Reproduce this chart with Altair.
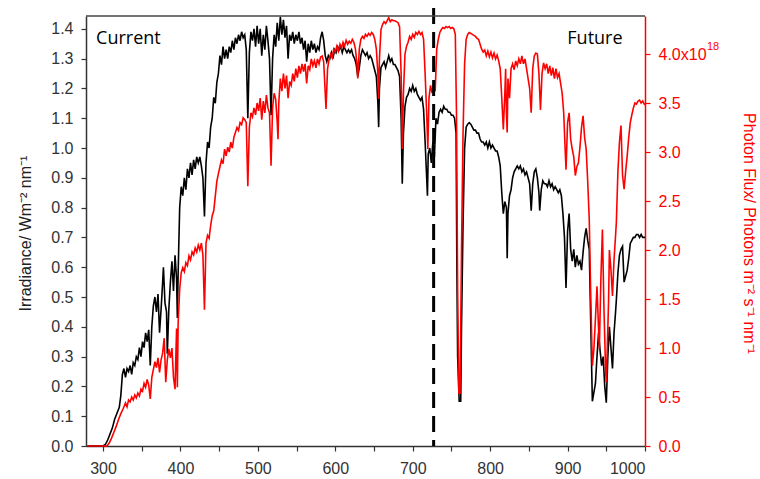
import altair as alt
import pandas as pd

# ---- black series: irradiance (W m-2 nm-1) ----
black_nm = [280, 290, 300, 303, 306, 309, 312, 315, 318, 321, 323, 325, 327, 329, 331, 333, 335, 337, 339, 341,
            343, 345, 347, 349, 351, 353, 355, 357, 359, 361, 363, 365, 367, 369, 371, 373, 375, 377, 378, 380,
            382, 383, 385, 387, 389, 391, 393, 395, 396, 397, 399, 401, 403, 405, 407, 409, 411, 413, 415, 417,
            419, 421, 423, 425, 427, 429, 431, 433, 435, 437, 439, 441, 443, 445, 447, 449, 451, 453, 455, 457,
            459, 461, 463, 465, 467, 469, 471, 473, 475, 477, 479, 481, 483, 485, 487, 489, 491, 493, 495, 497,
            499, 501, 503, 505, 507, 509, 511, 513, 515, 517, 519, 521, 523, 525, 527, 529, 531, 533, 535, 537,
            539, 541, 543, 545, 547, 549, 551, 553, 555, 557, 559, 561, 563, 565, 567, 569, 571, 573, 575, 577,
            579, 581, 583, 585, 587, 589, 591, 593, 595, 597, 599, 601, 603, 605, 607, 609, 611, 613, 615, 617,
            619, 621, 623, 625, 627, 629, 631, 633, 635, 637, 639, 641, 643, 645, 647, 649, 651, 653, 655, 656,
            657, 659, 661, 663, 665, 667, 669, 671, 673, 675, 677, 679, 681, 683, 685, 686.5, 688, 690, 692, 694,
            696, 698, 700, 702, 704, 706, 708, 710, 712, 714, 716, 718, 719, 720, 722, 724, 726, 728, 730, 732,
            734, 736, 738, 740, 742, 744, 746, 748, 750, 752, 754, 756, 757, 758, 760, 762, 763, 765, 767, 769,
            771, 773, 775, 777, 779, 781, 783, 785, 787, 789, 791, 793, 795, 797, 799, 801, 803, 805, 807, 809,
            811, 813, 815, 817, 819, 821, 822, 823, 825, 827, 829, 831, 833, 835, 837, 839, 841, 843, 845, 847,
            849, 851, 853, 855, 857, 859, 861, 863, 864, 866, 868, 870, 872, 874, 876, 878, 880, 882, 884, 886,
            888, 890, 892, 894, 896, 898, 900, 902, 904, 906, 908, 910, 912, 914, 916, 918, 920, 922, 924, 926,
            928, 930, 932, 934, 936, 938, 940, 942, 944, 946, 948, 950, 952, 954, 956, 958, 960, 962, 963, 965,
            967, 969, 971, 973, 975, 977, 979, 981, 983, 985, 987, 989, 991, 993, 995, 997, 999, 1000]
black_irr = [0, 0, 0, 0.005, 0.02, 0.04, 0.06, 0.09, 0.11, 0.13, 0.17, 0.24, 0.26, 0.23, 0.26, 0.25, 0.27, 0.24, 0.28, 0.27,
             0.30, 0.29, 0.33, 0.30, 0.35, 0.33, 0.38, 0.35, 0.39, 0.27, 0.40, 0.47, 0.50, 0.45, 0.51, 0.38, 0.46, 0.55, 0.60, 0.48,
             0.45, 0.31, 0.46, 0.55, 0.62, 0.52, 0.64, 0.56, 0.43, 0.58, 0.80, 0.87, 0.84, 0.90, 0.86, 0.93, 0.90, 0.95, 0.91, 0.96,
             0.93, 0.97, 0.95, 0.97, 0.94, 0.90, 0.77, 0.95, 1.02, 1.00, 1.07, 1.10, 1.17, 1.15, 1.22, 1.25, 1.31, 1.28, 1.34, 1.30,
             1.33, 1.30, 1.34, 1.32, 1.36, 1.33, 1.37, 1.35, 1.38, 1.36, 1.39, 1.37, 1.38, 1.33, 1.10, 1.32, 1.39, 1.36, 1.40, 1.34,
             1.41, 1.35, 1.40, 1.31, 1.38, 1.33, 1.41, 1.36, 1.30, 1.11, 1.30, 1.38, 1.34, 1.42, 1.36, 1.44, 1.38, 1.43, 1.37, 1.41,
             1.30, 1.38, 1.36, 1.39, 1.35, 1.38, 1.36, 1.39, 1.35, 1.37, 1.33, 1.36, 1.29, 1.35, 1.32, 1.36, 1.33, 1.35, 1.32, 1.34,
             1.33, 1.37, 1.39, 1.36, 1.31, 1.29, 1.31, 1.30, 1.32, 1.30, 1.33, 1.32, 1.34, 1.33, 1.34, 1.32, 1.34, 1.33, 1.32, 1.33,
             1.32, 1.33, 1.31, 1.30, 1.28, 1.24, 1.27, 1.31, 1.33, 1.32, 1.31, 1.32, 1.30, 1.31, 1.30, 1.28, 1.26, 1.24, 1.15, 1.07,
             1.20, 1.27, 1.28, 1.29, 1.27, 1.29, 1.31, 1.29, 1.30, 1.28, 1.28, 1.27, 1.26, 1.24, 1.10, 0.88, 1.05, 1.14, 1.17, 1.18,
             1.20, 1.19, 1.21, 1.19, 1.20, 1.18, 1.17, 1.16, 1.17, 1.13, 1.02, 0.90, 0.84, 0.98, 1.00, 0.95, 1.02, 0.97, 1.10, 1.08,
             1.12, 1.13, 1.12, 1.14, 1.13, 1.13, 1.12, 1.12, 1.11, 1.11, 1.10, 1.05, 0.60, 0.30, 0.15, 0.15, 0.40, 0.75, 1.00, 1.07,
             1.08, 1.085, 1.08, 1.07, 1.06, 1.06, 1.05, 1.05, 1.03, 1.02, 1.02, 1.01, 1.02, 1.00, 1.02, 1.00, 1.01, 1.00, 0.99, 0.99,
             0.97, 0.94, 0.85, 0.78, 0.82, 0.80, 0.63, 0.78, 0.84, 0.86, 0.90, 0.92, 0.93, 0.94, 0.93, 0.94, 0.92, 0.93, 0.91, 0.92,
             0.90, 0.88, 0.79, 0.88, 0.92, 0.93, 0.90, 0.85, 0.79, 0.86, 0.89, 0.88, 0.88, 0.87, 0.89, 0.87, 0.88, 0.86, 0.87, 0.86,
             0.85, 0.86, 0.84, 0.78, 0.70, 0.53, 0.72, 0.78, 0.66, 0.62, 0.66, 0.60, 0.64, 0.61, 0.62, 0.59, 0.65, 0.70, 0.73, 0.69,
             0.66, 0.40, 0.15, 0.18, 0.21, 0.30, 0.38, 0.32, 0.27, 0.30, 0.20, 0.145, 0.30, 0.40, 0.33, 0.26, 0.38, 0.45, 0.49, 0.58,
             0.64, 0.66, 0.67, 0.55, 0.57, 0.59, 0.63, 0.68, 0.69, 0.70, 0.70, 0.71, 0.71, 0.70, 0.71, 0.70, 0.70, 0.70]

# ---- red series: photon flux (x10^18 photons m-2 s-1 nm-1) ----
red_nm = [280, 290, 300, 305, 308, 311, 314, 317, 320, 323, 326, 329, 331, 333, 335, 337, 339, 341, 343, 345,
          347, 349, 351, 353, 355, 357, 359, 361, 363, 365, 367, 369, 371, 373, 375, 377, 379, 381, 383, 385,
          387, 389, 391, 393, 394, 395, 396, 397, 399, 401, 403, 405, 407, 409, 411, 413, 415, 417, 419, 421,
          423, 425, 427, 429, 431, 433, 435, 437, 439, 441, 443, 445, 447, 449, 451, 453, 455, 457, 459, 461,
          463, 465, 467, 469, 471, 473, 475, 477, 479, 481, 483, 485, 487, 489, 491, 493, 495, 497, 499, 501,
          503, 505, 507, 509, 511, 513, 515, 517, 519, 521, 523, 525, 526, 527, 529, 531, 533, 535, 537, 539,
          541, 543, 545, 547, 549, 551, 553, 555, 557, 559, 561, 563, 565, 567, 569, 571, 573, 575, 577, 579,
          581, 583, 585, 587, 588, 590, 592, 594, 596, 598, 600, 602, 604, 606, 608, 610, 612, 614, 616, 618,
          620, 622, 624, 626, 628, 629, 631, 633, 635, 637, 639, 641, 643, 645, 647, 649, 651, 653, 655, 656,
          657, 659, 661, 663, 665, 667, 669, 671, 673, 675, 677, 679, 681, 683, 685, 686.5, 688, 690, 692, 694,
          696, 698, 700, 702, 704, 706, 708, 710, 712, 714, 716, 718, 719.5, 721, 723, 725, 727, 729, 731, 733,
          735, 737, 739, 741, 743, 745, 747, 749, 751, 753, 755, 756.5, 758, 759.5, 761, 762, 763, 765, 767, 769,
          771, 773, 775, 777, 779, 781, 783, 785, 787, 789, 791, 793, 795, 797, 799, 801, 803, 805, 807, 809,
          811, 813, 815, 817, 819, 820, 821, 822, 823, 825, 827, 829, 831, 833, 835, 837, 839, 841, 843, 845,
          847, 849, 851, 853, 855, 857, 859, 861, 863, 865, 867, 869, 871, 873, 875, 877, 879, 881, 883, 885,
          887, 889, 891, 893, 895, 897, 898, 900, 902, 904, 906, 908, 910, 912, 914, 916, 918, 920, 922, 924,
          926, 928, 930, 932, 934, 936, 938, 940, 941, 943, 945, 947, 949, 950, 952, 953, 954, 956, 958, 960,
          962, 963, 965, 967, 969, 971, 973, 975, 977, 979, 981, 983, 985, 987, 989, 991, 993, 995, 997, 999, 1000]
red_flux = [0, 0, 0, 0.0, 0.03, 0.08, 0.14, 0.20, 0.27, 0.33, 0.38, 0.44, 0.40, 0.47, 0.45, 0.50, 0.47, 0.52, 0.49, 0.54,
            0.51, 0.58, 0.56, 0.64, 0.60, 0.68, 0.62, 0.48, 0.70, 0.78, 0.86, 0.80, 0.90, 0.75, 0.88, 0.95, 1.10, 0.65, 0.88, 0.99,
            0.90, 1.00, 0.70, 0.58, 0.90, 1.20, 0.60, 1.25, 1.60, 1.77, 1.82, 1.78, 1.87, 1.84, 1.94, 1.90, 1.98, 1.95, 2.02, 1.98,
            2.05, 2.00, 2.07, 1.95, 1.39, 2.07, 2.15, 2.12, 2.25, 2.35, 2.40, 2.55, 2.70, 2.78, 2.85, 2.92, 2.88, 3.03, 2.96, 3.05,
            3.00, 3.10, 3.04, 3.15, 3.20, 3.25, 3.22, 3.30, 3.28, 3.35, 3.33, 3.30, 2.65, 3.25, 3.40, 3.36, 3.45, 3.38, 3.50, 3.42,
            3.55, 3.33, 3.52, 3.40, 3.58, 3.45, 3.40, 2.86, 3.45, 3.60, 3.54, 3.30, 3.13, 3.50, 3.75, 3.62, 3.80, 3.65, 3.78, 3.55,
            3.72, 3.68, 3.80, 3.72, 3.85, 3.76, 3.88, 3.80, 3.90, 3.82, 3.90, 3.70, 3.88, 3.84, 3.95, 3.88, 3.93, 3.86, 3.95, 3.90,
            3.97, 3.98, 3.92, 3.60, 3.44, 3.85, 3.95, 4.00, 3.96, 4.05, 4.02, 4.08, 4.03, 4.10, 4.06, 4.12, 4.08, 4.14, 4.10, 4.13,
            4.11, 4.15, 4.12, 4.05, 3.90, 3.75, 4.05, 4.15, 4.18, 4.16, 4.20, 4.18, 4.21, 4.19, 4.22, 4.20, 4.15, 4.05, 3.80, 3.54,
            3.95, 4.25, 4.30, 4.33, 4.31, 4.34, 4.37, 4.33, 4.35, 4.34, 4.34, 4.33, 4.32, 4.28, 3.80, 3.03, 3.60, 4.00, 4.08, 4.12,
            4.18, 4.15, 4.20, 4.17, 4.22, 4.20, 4.23, 4.20, 4.22, 4.15, 3.80, 3.40, 3.03, 3.55, 3.68, 3.60, 3.70, 3.62, 4.05, 4.15,
            4.22, 4.25, 4.27, 4.26, 4.28, 4.27, 4.28, 4.26, 4.27, 4.26, 4.20, 3.40, 1.60, 0.54, 0.54, 1.20, 2.00, 3.20, 3.90, 4.15,
            4.20, 4.22, 4.21, 4.20, 4.19, 4.18, 4.16, 4.15, 4.10, 4.05, 4.02, 4.04, 3.98, 4.03, 3.97, 4.02, 3.96, 4.01, 3.95, 3.99,
            3.93, 3.85, 3.55, 3.23, 3.60, 3.85, 3.40, 3.20, 3.75, 3.55, 3.85, 3.90, 3.84, 3.93, 3.88, 3.95, 3.90, 3.98, 3.90, 3.95,
            3.85, 3.75, 3.65, 3.40, 3.85, 3.98, 4.01, 4.00, 3.80, 3.43, 3.80, 3.91, 3.85, 3.90, 3.80, 3.88, 3.78, 3.86, 3.75, 3.85,
            3.76, 3.80, 3.70, 3.60, 3.40, 3.00, 2.82, 3.30, 3.40, 3.13, 3.03, 2.95, 2.76, 2.85, 2.89, 3.05, 3.25, 3.37, 3.15, 3.03,
            2.70, 2.31, 1.50, 0.82, 0.99, 1.30, 1.63, 1.20, 0.99, 1.70, 2.21, 1.40, 0.80, 0.65, 1.20, 1.50, 2.00, 1.80, 1.53, 1.90,
            2.15, 2.28, 2.80, 3.10, 3.27, 2.76, 2.62, 2.80, 2.96, 3.15, 3.30, 3.38, 3.45, 3.50, 3.49, 3.52, 3.53, 3.50, 3.52, 3.49, 3.48]

x_ticks = [300, 350, 400, 450, 500, 550, 600, 650, 700, 750, 800, 850, 900, 950, 1000]
left_ticks = [0.0, 0.1, 0.2, 0.3, 0.4, 0.5, 0.6, 0.7, 0.8, 0.9, 1.0, 1.1, 1.2, 1.3, 1.4]
right_ticks = [0.0, 0.5, 1.0, 1.5, 2.0, 2.5, 3.0, 3.5, 4.0]
divider_nm = [727]
labels_text = ["Current", "Future"]
labels_nm = [291, 971]
labels_y = [1.365, 1.365]
exponent_text = ["18"]
exponent_at = [4.0]

W, H = 559, 430
FONT = "Liberation Sans"
GREY = "#333333"
RED = "#ff0000"

black_df = pd.DataFrame({"nm": black_nm, "irr": black_irr})
red_df = pd.DataFrame({"nm": red_nm, "flux": red_flux})
lab_df = pd.DataFrame({"label": labels_text, "nm": labels_nm, "irr": labels_y})
exp_df = pd.DataFrame({"t": exponent_text, "flux": exponent_at})

x_enc = alt.X(
    "nm:Q",
    scale=alt.Scale(domain=[278, 1000], nice=False, zero=False),
    axis=alt.Axis(values=x_ticks, labelExpr="datum.value % 100 == 0 ? datum.label : ''",
                  title=None, grid=False, tickSize=5, labelPadding=9, format="d"),
)
y_left = alt.Y(
    "irr:Q",
    scale=alt.Scale(domain=[0, 1.443], nice=False),
    axis=alt.Axis(orient="left", values=left_ticks, format=".1f", grid=False, tickSize=5,
                  labelPadding=8, title="Irradiance/ Wm⁻² nm⁻¹", titleAngle=-90,
                  titleX=-61, titleY=H / 2 + 2, titleAlign="center", titleBaseline="middle",
                  titleColor="#222222"),
)
y_right = alt.Y(
    "flux:Q",
    scale=alt.Scale(domain=[0, 4.388], nice=False),
    axis=alt.Axis(orient="right", values=right_ticks,
                  labelExpr="datum.value == 4 ? '4.0x10' : format(datum.value, '.1f')",
                  grid=False, tickSize=5, labelPadding=8,
                  labelColor=RED, tickColor=RED, domainColor=RED,
                  title="Photon Flux/ Photons m⁻² s⁻¹ nm⁻¹", titleAngle=90,
                  titleX=103, titleY=H / 2 + 2, titleAlign="center", titleBaseline="middle",
                  titleColor=RED),
)

black_line = alt.Chart(black_df).mark_line(color="black", strokeWidth=1.6).encode(x=x_enc, y=y_left)
cur_text = alt.Chart(lab_df[lab_df.label == "Current"]).mark_text(
    align="left", baseline="middle", font="Open Sans", fontSize=18, color="black"
).encode(x=x_enc, y=y_left, text="label:N")
fut_text = alt.Chart(lab_df[lab_df.label == "Future"]).mark_text(
    align="right", baseline="middle", font="Open Sans", fontSize=18, color="black"
).encode(x=x_enc, y=y_left, text="label:N")

red_line = alt.Chart(red_df).mark_line(color=RED, strokeWidth=1.6).encode(x=x_enc, y=y_right)
exp_text = alt.Chart(exp_df).mark_text(
    align="left", baseline="middle", font=FONT, fontSize=11, color=RED, dy=-7
).encode(x=alt.value(W + 62), y=y_right, text="t:N")

divider = alt.Chart(pd.DataFrame({"nm": divider_nm})).mark_rule(
    color="black", strokeWidth=3, strokeDash=[16, 8]
).encode(x=x_enc, y=alt.value(-8), y2=alt.value(H))

top_frame = alt.Chart(pd.DataFrame({"a": [0]})).mark_rule(color="#444444", strokeWidth=1.5).encode(
    x=alt.value(0), x2=alt.value(W), y=alt.value(0)
)

chart = alt.layer(
    alt.layer(black_line, cur_text, fut_text),
    alt.layer(red_line, exp_text),
    divider,
    top_frame,
).resolve_scale(y="independent").properties(
    width=W, height=H,
    autosize=alt.AutoSizeParams(type="none"),
    padding={"left": 86, "top": 16, "right": 115, "bottom": 33},
).configure_view(stroke=None).configure_axis(
    labelFont=FONT, labelFontSize=16, labelColor=GREY,
    domainColor=GREY, domainWidth=1.5, tickColor=GREY, tickWidth=1.2,
    titleFont=FONT, titleFontSize=16, titleFontWeight="normal",
)

chart.save("out.html", embed_options={"renderer": "svg", "actions": False})
